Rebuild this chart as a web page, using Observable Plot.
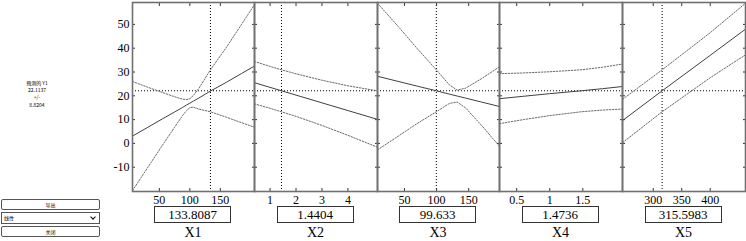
<!DOCTYPE html>
<html>
<head>
<meta charset="utf-8">
<script src="https://cdn.jsdelivr.net/npm/d3@7"></script>
<script src="https://cdn.jsdelivr.net/npm/@observablehq/plot@0.6"></script>
<style>
  html, body { margin: 0; padding: 0; background: #fff; }
  #root { position: relative; width: 746px; height: 241px; overflow: hidden; background: #fff; }
  .panel { position: absolute; top: 0; }
  .valbox { position: absolute; top: 206px; width: 75px; height: 15px; border: 1px solid #333; background: #fff;
            font: 13px "Liberation Serif", serif; line-height: 15px; text-align: center; color: #000; }
  .xname { position: absolute; top: 225px; width: 60px; font: 14px "Liberation Serif", serif; line-height: 16px; text-align: center; color: #000; }
  .info { position: absolute; left: 12px; top: 79px; width: 50px; text-align: center; font: 5px "Noto Sans CJK SC", "DejaVu Sans", sans-serif; line-height: 7.2px; color: #000; }
  .btn { position: absolute; left: 1px; width: 97px; height: 9px; border: 1px solid #555; border-radius: 2px; background: #fff;
         font: 5px "Noto Sans CJK SC", sans-serif; line-height: 9px; text-align: center; color: #000; }
  .sel { position: absolute; left: 1px; top: 212px; width: 97px; height: 10px; border: 1px solid #555; background: #fff;
         font: 5px "Noto Sans CJK SC", sans-serif; line-height: 10px; color: #000; }
  .sel span { position: absolute; left: 2px; }
  .sel i { position: absolute; right: 4px; top: 2px; width: 3px; height: 3px; border-right: 1px solid #000; border-bottom: 1px solid #000; transform: rotate(45deg); }
</style>
</head>
<body>
<div id="root"></div>
<script>
// ---- data ----
const responseName = "预测的 Y1";
const predictedY = 22.1137;
const halfWidth = 8.8204;
const factorNames = ["X1", "X2", "X3", "X4", "X5"];
const currentX = [133.8087, 1.4404, 99.633, 1.4736, 315.5983];
const currentXText = ["133.8087", "1.4404", "99.633", "1.4736", "315.5983"];
const yTicks = [-10, 0, 10, 20, 30, 40, 50];
const yDomain = [-20.2, 59.2];

const x1Ticks = [50, 100, 150];
const x1Domain = [6, 206];
const x1 =      [6, 30, 55, 75, 88, 95, 100, 106, 115, 133.8087, 160, 185, 206];
const x1Fit =   [3.1, 6.6, 10.3, 13.2, 15.1, 16.2, 16.9, 17.8, 19.1, 22.0, 25.7, 29.4, 32.5];
const x1Upper = [26.0, 23.7, 21.4, 19.6, 18.6, 18.4, 18.8, 20.2, 23.2, 30.93, 40.4, 50.1, 58.3];
const x1Lower = [-19.8, -10.5, -0.8, 6.8, 11.7, 13.9, 15.0, 15.2, 14.4, 13.29, 11.0, 8.7, 6.8];

const x2Ticks = [1, 2, 3, 4];
const x2Domain = [0.4, 5.14];
const x2 =      [0.4, 1.0, 1.4404, 2, 3, 4, 5.14];
const x2Fit =   [25.5, 23.55, 22.1, 20.3, 17.05, 13.8, 10.1];
const x2Upper = [34.4, 32.35, 30.93, 29.24, 26.55, 24.2, 22.1];
const x2Lower = [16.6, 14.75, 13.27, 11.36, 7.55, 3.4, -1.6];

const x3Ticks = [50, 100, 150];
const x3Domain = [8, 198];
const x3 =      [8, 40, 70, 99.633, 120, 132, 145, 170, 198];
const x3Fit =   [28.2, 26.06, 24.06, 22.1, 20.72, 19.92, 19.05, 17.38, 15.5];
const x3Upper = [58.9, 49.2, 39.8, 30.9, 24.6, 22.4, 23.2, 27.2, 32.2];
const x3Lower = [-2.7, 3.0, 8.4, 13.3, 16.8, 17.4, 14.95, 7.6, -1.2];

const x4Ticks = [0.5, 1, 1.5];
const x4Domain = [0.24, 2.1];
const x4 =      [0.24, 0.6, 1.0, 1.4736, 1.8, 2.1];
const x4Fit =   [18.8, 19.8, 20.9, 22.1, 23.0, 23.9];
const x4Upper = [29.3, 29.6, 30.1, 30.93, 32.0, 33.35];
const x4Lower = [8.3, 10.0, 11.7, 13.29, 14.0, 14.45];

const x5Ticks = [300, 350, 400];
const x5Domain = [246, 462];
const x5 =      [246, 315.5983, 400, 462];
const x5Fit =   [9.6, 22.1, 37.0, 48.0];
const x5Upper = [18.5, 30.9, 46.5, 58.9];
const x5Lower = [0.3, 13.3, 27.6, 37.2];

// ---- assemble ----
const factors = [
  {x: x1, fit: x1Fit, up: x1Upper, lo: x1Lower, ticks: x1Ticks, domain: x1Domain, showV: true},
  {x: x2, fit: x2Fit, up: x2Upper, lo: x2Lower, ticks: x2Ticks, domain: x2Domain, showV: true},
  {x: x3, fit: x3Fit, up: x3Upper, lo: x3Lower, ticks: x3Ticks, domain: x3Domain, showV: true},
  {x: x4, fit: x4Fit, up: x4Upper, lo: x4Lower, ticks: x4Ticks, domain: x4Domain, showV: false},
  {x: x5, fit: x5Fit, up: x5Upper, lo: x5Lower, ticks: x5Ticks, domain: x5Domain, showV: true}
];
const edges = [132, 254, 377, 499, 622, 745];
const root = document.getElementById("root");
const fmt = d => String(d).replace("-", "-");

factors.forEach((f, i) => {
  const rows = f.x.map((x, j) => ({x, fit: f.fit[j], up: f.up[j], lo: f.lo[j]}));
  const mL = i === 0 ? 32 : 1, mR = 1;
  const w = edges[i + 1] - edges[i];
  const marks = [
    Plot.ruleY([predictedY], {stroke: "#000", strokeWidth: 1, strokeDasharray: "1,2"}),
    f.showV ? Plot.ruleX([currentX[i]], {stroke: "#000", strokeWidth: 1, strokeDasharray: "1,2"}) : null,
    Plot.line(rows, {x: "x", y: "up", stroke: "#6a6a6a", strokeWidth: 1, strokeDasharray: "1.5,1.5"}),
    Plot.line(rows, {x: "x", y: "lo", stroke: "#6a6a6a", strokeWidth: 1, strokeDasharray: "1.5,1.5"}),
    Plot.line(rows, {x: "x", y: "fit", stroke: "#404040", strokeWidth: 1}),
    // tick labels
    Plot.axisX(f.ticks, {anchor: "bottom", tickSize: 0, tickPadding: 4, fontSize: 12, label: null, tickFormat: fmt}),
    // inward ticks
    Plot.axisX(f.ticks, {anchor: "bottom", tickSize: -3, tickFormat: () => "", label: null, stroke: "#333"}),
    Plot.axisX(f.ticks, {anchor: "top", tickSize: -3, tickFormat: () => "", label: null, stroke: "#333"}),
    i === 0 ? Plot.axisY(yTicks, {anchor: "left", tickSize: 0, tickPadding: 3, fontSize: 12, label: null, tickFormat: fmt}) : null,
    Plot.axisY(yTicks, {anchor: "left", tickSize: -3, tickFormat: () => "", label: null, stroke: "#333"}),
    Plot.axisY(yTicks, {anchor: "right", tickSize: -3, tickFormat: () => "", label: null, stroke: "#333"}),
    Plot.frame({stroke: "#707070", strokeWidth: 1.6})
  ].filter(Boolean);
  const svg = Plot.plot({
    width: mL + w + mR,
    height: 212,
    marginTop: 2,
    marginBottom: 21,
    marginLeft: mL,
    marginRight: mR,
    x: {domain: f.domain, axis: null},
    y: {domain: yDomain, axis: null},
    style: {background: "transparent", fontFamily: "Liberation Serif", fontSize: "12px", color: "#000", overflow: "visible"},
    marks
  });
  svg.classList.add("panel");
  svg.style.left = (edges[i] - mL) + "px";
  root.appendChild(svg);

  const center = (edges[i] + edges[i + 1]) / 2;
  const box = document.createElement("div");
  box.className = "valbox";
  box.textContent = currentXText[i];
  box.style.left = (center - 39) + "px";
  root.appendChild(box);

  const nm = document.createElement("div");
  nm.className = "xname";
  nm.textContent = factorNames[i];
  nm.style.left = (center - 30) + "px";
  root.appendChild(nm);
});

const info = document.createElement("div");
info.className = "info";
info.innerHTML = `${responseName}<br>${predictedY.toFixed(4)}<br>+/-<br>${halfWidth.toFixed(4)}`;
root.appendChild(info);

const b1 = document.createElement("div");
b1.className = "btn"; b1.style.top = "199px"; b1.textContent = "导出";
root.appendChild(b1);
const sel = document.createElement("div");
sel.className = "sel";
sel.innerHTML = "<span>线性</span><i></i>";
root.appendChild(sel);
const b2 = document.createElement("div");
b2.className = "btn"; b2.style.top = "226px"; b2.textContent = "关闭";
root.appendChild(b2);
</script>
</body>
</html>
